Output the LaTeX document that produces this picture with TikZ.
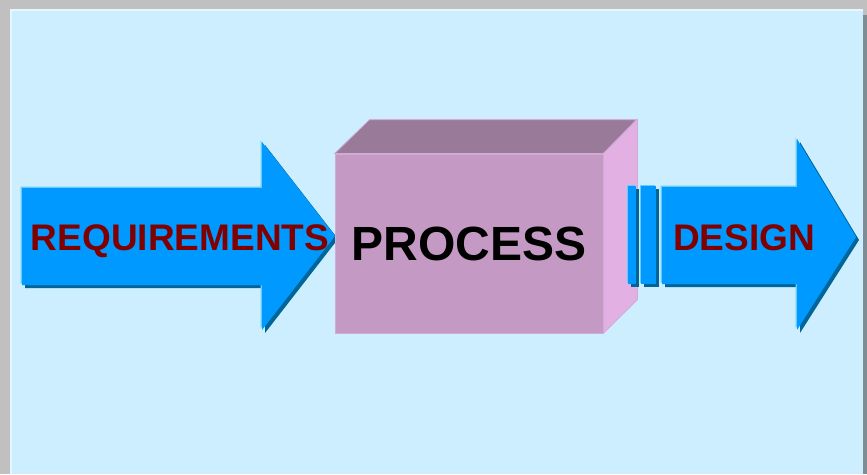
\documentclass[tikz,border=0pt]{standalone}
\usepackage{fontspec}
\setmainfont{Liberation Sans}
\definecolor{framegray}{HTML}{C0C0C0}
\definecolor{panelshade}{HTML}{7F8C94}
\definecolor{panelblue}{HTML}{CCEEFF}
\definecolor{panellight}{HTML}{E6F6FF}
\definecolor{arrowblue}{HTML}{0099FF}
\definecolor{arrowlight}{HTML}{66CCFF}
\definecolor{arrowdark}{HTML}{006699}
\definecolor{boxfront}{HTML}{C49AC4}
\definecolor{boxtop}{HTML}{997A99}
\definecolor{boxside}{HTML}{E2B0E2}
\definecolor{boxedge}{HTML}{D2AAD6}
\definecolor{wordred}{HTML}{800000}

\begin{document}
\begin{tikzpicture}[x=1pt,y=-1pt,
 frontface/.style={fill=boxfront,draw=boxedge,line width=0.8pt,rectangle,minimum width=268pt,minimum height=179pt,inner sep=0pt,font=\fontsize{48}{52}\selectfont\bfseries},
 face/.style={draw=boxedge,line width=0.8pt},
 word/.style={font=\fontsize{37}{40}\selectfont\bfseries,text=wordred,anchor=base,inner sep=0pt}]
\useasboundingbox (0,0) rectangle (867,474);
% frame and panel
\fill[framegray] (0,0) rectangle (867,474);
\fill[panelshade] (14,15) rectangle (867,474);
\fill[panellight] (10,9) rectangle (863,474);
\fill[panelblue] (12,11) rectangle (863,474);
% arrows with light and dark edges
\foreach \d/\c in {3/arrowdark,-1.5/arrowlight,0/arrowblue}{
 \fill[\c,shift={(\d,\d)}] (22,188) -- (262,188) -- (262,142) -- (335,236) -- (262,330) -- (262,285) -- (22,285) -- cycle;
 \fill[\c,shift={(\d,\d)}] (662,187) -- (797,187) -- (797,139) -- (856,237) -- (797,330) -- (797,284) -- (662,284) -- cycle;
}
% box
\node[frontface] (proc) at (469,243.5) {PROCESS};
\fill[boxtop,face] (proc.north west) -- ++(35,-34) -- ++(267,0) -- (proc.north east) -- cycle;
\fill[boxside,face] (proc.north east) -- ++(34,-34) -- ++(0,180) -- (proc.south east) -- cycle;
% bars in front of the box side
\foreach \d/\c in {3/arrowdark,-1.5/arrowlight,0/arrowblue}{
 \fill[\c,shift={(\d,\d)}] (628,186) rectangle (636,284);
 \fill[\c,shift={(\d,\d)}] (641,186) rectangle (656,284);
}
\node[word] (req) at (180,250) {REQUIREMENTS};
\node[word] (des) at (744,250) {DESIGN};
\end{tikzpicture}
\end{document}
